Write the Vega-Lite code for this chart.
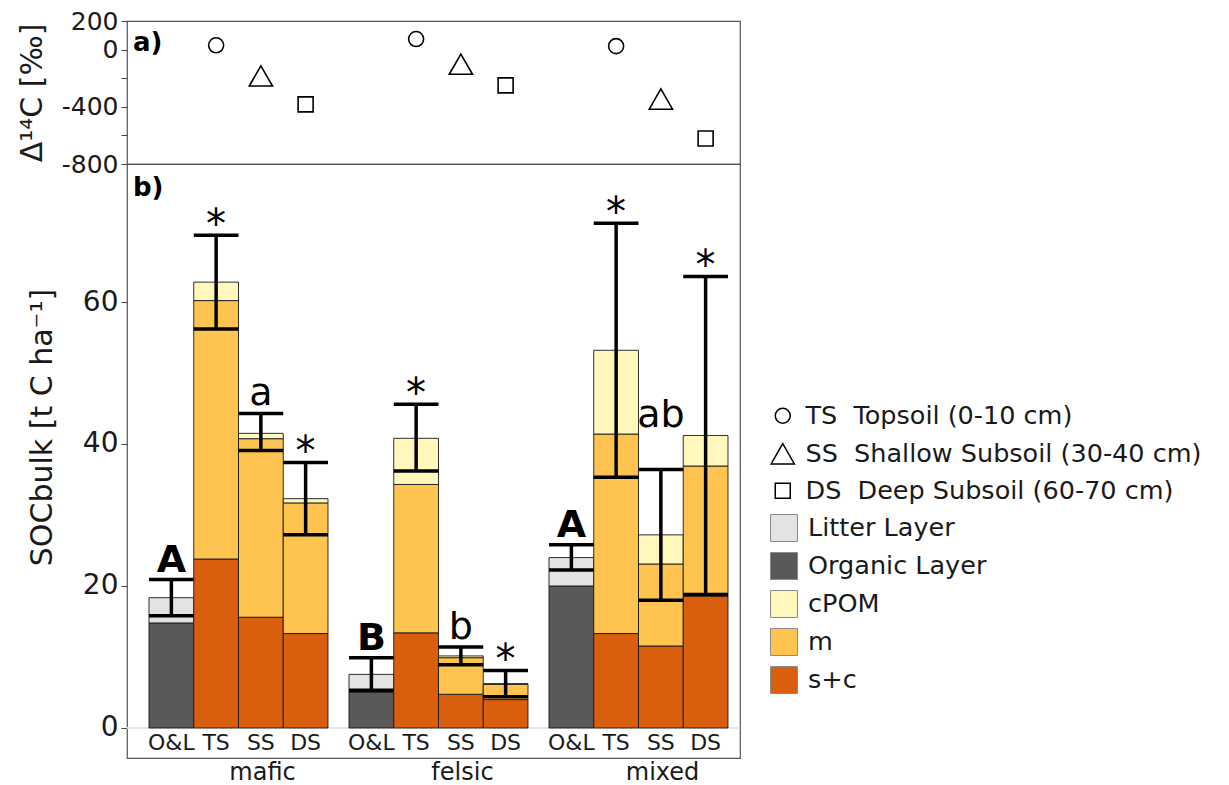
{
  "$schema": "https://vega.github.io/schema/vega-lite/v6.json",
  "padding": {"left": 16, "top": 8, "right": 2, "bottom": 2},
  "spacing": 0,
  "bounds": "flush",
  "config": {
    "font": "DejaVu Sans",
    "view": {"stroke": "#555555", "strokeWidth": 1.2},
    "axis": {"grid": false, "domain": false, "labelColor": "#1a1a1a", "titleColor": "#1a1a1a", "tickColor": "#444444", "tickSize": 6, "labelFontSize": 25, "titleFontSize": 30, "titleFontWeight": "normal", "labelPadding": 3},
    "legend": {"labelFontSize": 25.5, "labelColor": "#1a1a1a", "labelFont": "DejaVu Sans", "labelLimit": 0}
  },
  "datasets": {
    "d14c": [
      {"group": "mafic", "depth": "TS", "d14c": 30},
      {"group": "mafic", "depth": "SS", "d14c": -184},
      {"group": "mafic", "depth": "DS", "d14c": -383},
      {"group": "felsic", "depth": "TS", "d14c": 74},
      {"group": "felsic", "depth": "SS", "d14c": -102},
      {"group": "felsic", "depth": "DS", "d14c": -250},
      {"group": "mixed", "depth": "TS", "d14c": 24},
      {"group": "mixed", "depth": "SS", "d14c": -346},
      {"group": "mixed", "depth": "DS", "d14c": -622}
    ],
    "comps": [
      {"group": "mafic", "depth": "O&L", "component": "Organic Layer", "value": 14.8},
      {"group": "mafic", "depth": "O&L", "component": "Litter Layer", "value": 3.55},
      {"group": "mafic", "depth": "TS", "component": "s+c", "value": 23.8},
      {"group": "mafic", "depth": "TS", "component": "m", "value": 36.4},
      {"group": "mafic", "depth": "TS", "component": "cPOM", "value": 2.6},
      {"group": "mafic", "depth": "SS", "component": "s+c", "value": 15.6},
      {"group": "mafic", "depth": "SS", "component": "m", "value": 25.15},
      {"group": "mafic", "depth": "SS", "component": "cPOM", "value": 0.75},
      {"group": "mafic", "depth": "DS", "component": "s+c", "value": 13.3},
      {"group": "mafic", "depth": "DS", "component": "m", "value": 18.4},
      {"group": "mafic", "depth": "DS", "component": "cPOM", "value": 0.6},
      {"group": "felsic", "depth": "O&L", "component": "Organic Layer", "value": 5.0},
      {"group": "felsic", "depth": "O&L", "component": "Litter Layer", "value": 2.55},
      {"group": "felsic", "depth": "TS", "component": "s+c", "value": 13.4},
      {"group": "felsic", "depth": "TS", "component": "m", "value": 20.9},
      {"group": "felsic", "depth": "TS", "component": "cPOM", "value": 6.5},
      {"group": "felsic", "depth": "SS", "component": "s+c", "value": 4.75},
      {"group": "felsic", "depth": "SS", "component": "m", "value": 5.15},
      {"group": "felsic", "depth": "SS", "component": "cPOM", "value": 0.25},
      {"group": "felsic", "depth": "DS", "component": "s+c", "value": 4.0},
      {"group": "felsic", "depth": "DS", "component": "m", "value": 2.15},
      {"group": "felsic", "depth": "DS", "component": "cPOM", "value": 0.1},
      {"group": "mixed", "depth": "O&L", "component": "Organic Layer", "value": 20.0},
      {"group": "mixed", "depth": "O&L", "component": "Litter Layer", "value": 4.0},
      {"group": "mixed", "depth": "TS", "component": "s+c", "value": 13.3},
      {"group": "mixed", "depth": "TS", "component": "m", "value": 28.1},
      {"group": "mixed", "depth": "TS", "component": "cPOM", "value": 11.8},
      {"group": "mixed", "depth": "SS", "component": "s+c", "value": 11.55},
      {"group": "mixed", "depth": "SS", "component": "m", "value": 11.55},
      {"group": "mixed", "depth": "SS", "component": "cPOM", "value": 4.1},
      {"group": "mixed", "depth": "DS", "component": "s+c", "value": 18.6},
      {"group": "mixed", "depth": "DS", "component": "m", "value": 18.3},
      {"group": "mixed", "depth": "DS", "component": "cPOM", "value": 4.3}
    ],
    "bars": [
      {"group": "mafic", "depth": "O&L", "lo": 15.8, "hi": 20.9, "sig": "A"},
      {"group": "mafic", "depth": "TS", "lo": 56.2, "hi": 69.4, "sig": "*"},
      {"group": "mafic", "depth": "SS", "lo": 39.1, "hi": 44.3, "sig": "a"},
      {"group": "mafic", "depth": "DS", "lo": 27.2, "hi": 37.4, "sig": "*"},
      {"group": "felsic", "depth": "O&L", "lo": 5.3, "hi": 9.9, "sig": "B"},
      {"group": "felsic", "depth": "TS", "lo": 36.2, "hi": 45.6, "sig": "*"},
      {"group": "felsic", "depth": "SS", "lo": 8.9, "hi": 11.4, "sig": "b"},
      {"group": "felsic", "depth": "DS", "lo": 4.4, "hi": 8.1, "sig": "*"},
      {"group": "mixed", "depth": "O&L", "lo": 22.25, "hi": 25.8, "sig": "A"},
      {"group": "mixed", "depth": "TS", "lo": 35.3, "hi": 71.1, "sig": "*"},
      {"group": "mixed", "depth": "SS", "lo": 18.0, "hi": 36.4, "sig": "ab"},
      {"group": "mixed", "depth": "DS", "lo": 18.8, "hi": 63.6, "sig": "*"}
    ]
  },
  "vconcat": [
    {
      "width": 613,
      "height": 143,
      "title": {"text": "a)", "anchor": "start", "frame": "group", "orient": "top", "offset": -47, "dx": 6, "fontSize": 26, "fontWeight": "bold", "color": "#000000"},
      "data": {"name": "d14c"},
      "mark": {"type": "point", "filled": false, "color": "black", "strokeWidth": 1.6, "opacity": 1, "size": 225},
      "encoding": {
        "x": {"field": "group", "type": "nominal", "sort": null, "scale": {"domain": ["mafic", "felsic", "mixed"], "paddingInner": 0.105, "paddingOuter": 0.085, "align": 0.647}, "axis": null},
        "xOffset": {"field": "depth", "type": "nominal", "scale": {"domain": ["O&L", "TS", "SS", "DS"], "paddingInner": 0, "paddingOuter": 0}},
        "y": {"field": "d14c", "type": "quantitative", "scale": {"domain": [-800, 200], "nice": false, "zero": false},
          "axis": {"title": "Δ¹⁴C [‰]", "values": [-800, -600, -400, -200, 0, 200], "labelExpr": "datum.value == -200 || datum.value == -600 ? '' : '' + datum.value", "titleX": -95, "titleY": 71.5, "titleBaseline": "middle", "titleAlign": "center", "titleAngle": 270}},
        "shape": {"field": "depth", "type": "nominal", "scale": {"domain": ["TS", "SS", "DS"], "range": ["circle", "M0,-1.35L1.55,1.35L-1.55,1.35Z", "square"]},
          "legend": {"title": null, "orient": "none", "legendX": 643, "legendY": 382, "labelExpr": "datum.label == 'TS' ? 'TS\u00a0\u00a0Topsoil (0-10 cm)' : datum.label == 'SS' ? 'SS\u00a0\u00a0Shallow Subsoil (30-40 cm)' : 'DS\u00a0\u00a0Deep Subsoil (60-70 cm)'", "symbolStrokeColor": "black", "symbolFillColor": "transparent", "symbolStrokeWidth": 1.5, "symbolSize": 225, "labelOffset": 10, "rowPadding": 10}}
      }
    },
    {
      "width": 613,
      "height": 594,
      "title": {"text": "b)", "anchor": "start", "frame": "group", "orient": "top", "offset": -37, "dx": 6, "fontSize": 26, "fontWeight": "bold", "color": "#000000"},
      "layer": [
        {
          "data": {"name": "bars"},
          "mark": {"type": "rule", "color": "#e6e6e6", "strokeWidth": 1.5},
          "encoding": {
            "y": {"datum": 0, "type": "quantitative", "scale": {"domain": [-4.23, 79.44], "nice": false, "zero": false},
              "axis": {"title": "SOCbulk [t C ha⁻¹]", "values": [0, 20, 40, 60], "labelFontSize": 28, "titleX": -85, "titleY": 263, "titleBaseline": "middle", "titleAlign": "center", "titleAngle": 270}}
          }
        },
        {
          "data": {"name": "comps"},
          "mark": {"type": "bar", "stroke": "#1a1a1a", "strokeWidth": 0.9},
          "encoding": {
            "x": {"field": "group", "type": "nominal", "sort": null, "scale": {"domain": ["mafic", "felsic", "mixed"], "paddingInner": 0.105, "paddingOuter": 0.085, "align": 0.647},
              "axis": {"title": null, "labelAngle": 0, "ticks": false, "labelFontSize": 24, "labelPadding": 2, "labelOffset": 24, "labelBaseline": "top"}},
            "xOffset": {"field": "depth", "type": "nominal", "scale": {"domain": ["O&L", "TS", "SS", "DS"], "paddingInner": 0, "paddingOuter": 0}},
            "y": {"field": "value", "type": "quantitative", "stack": "zero", "scale": {"domain": [-4.23, 79.44], "nice": false, "zero": false},
              "axis": {"title": "SOCbulk [t C ha⁻¹]", "values": [0, 20, 40, 60], "labelFontSize": 28, "titleX": -85, "titleY": 263, "titleBaseline": "middle", "titleAlign": "center", "titleAngle": 270}},
            "color": {"field": "component", "type": "nominal",
              "scale": {"domain": ["Litter Layer", "Organic Layer", "cPOM", "m", "s+c"], "range": ["#e3e3e3", "#595959", "#fff7bc", "#fec44f", "#d95f0e"]},
              "legend": {"title": null, "orient": "none", "legendX": 643, "legendY": 493, "symbolType": "square", "symbolSize": 729, "symbolStrokeColor": "#8a8a8a", "symbolStrokeWidth": 1, "symbolOpacity": 1, "labelOffset": 10, "rowPadding": 6}},
            "order": {"field": "component", "sort": "descending"}
          }
        },
        {
          "data": {"name": "bars"},
          "mark": {"type": "rule", "color": "black", "strokeWidth": 3.5},
          "encoding": {
            "x": {"field": "group", "type": "nominal", "sort": null},
            "xOffset": {"field": "depth", "type": "nominal"},
            "y": {"field": "lo", "type": "quantitative"},
            "y2": {"field": "hi"}
          }
        },
        {
          "data": {"name": "bars"},
          "mark": {"type": "bar", "fillOpacity": 0, "stroke": "black", "strokeWidth": 3.5},
          "encoding": {
            "x": {"field": "group", "type": "nominal", "sort": null},
            "xOffset": {"field": "depth", "type": "nominal"},
            "y": {"field": "hi", "type": "quantitative"},
            "y2": {"field": "hi"}
          }
        },
        {
          "data": {"name": "bars"},
          "mark": {"type": "bar", "fillOpacity": 0, "stroke": "black", "strokeWidth": 3.5},
          "encoding": {
            "x": {"field": "group", "type": "nominal", "sort": null},
            "xOffset": {"field": "depth", "type": "nominal"},
            "y": {"field": "lo", "type": "quantitative"},
            "y2": {"field": "lo"}
          }
        },
        {
          "data": {"name": "bars"},
          "mark": {"type": "text", "fontSize": 22, "baseline": "middle", "color": "#1a1a1a"},
          "encoding": {
            "x": {"field": "group", "type": "nominal", "sort": null},
            "xOffset": {"field": "depth", "type": "nominal"},
            "y": {"datum": -2.05, "type": "quantitative"},
            "text": {"field": "depth"}
          }
        },
        {
          "data": {"name": "bars"},
          "transform": [{"filter": "datum.sig == 'A' || datum.sig == 'B'"}],
          "mark": {"type": "text", "fontSize": 38, "fontWeight": "bold", "baseline": "alphabetic", "dy": -8, "color": "black"},
          "encoding": {
            "x": {"field": "group", "type": "nominal", "sort": null},
            "xOffset": {"field": "depth", "type": "nominal"},
            "y": {"field": "hi", "type": "quantitative"},
            "text": {"field": "sig"}
          }
        },
        {
          "data": {"name": "bars"},
          "transform": [{"filter": "datum.sig == 'a' || datum.sig == 'b'"}],
          "mark": {"type": "text", "fontSize": 38, "baseline": "alphabetic", "dy": -8, "color": "black"},
          "encoding": {
            "x": {"field": "group", "type": "nominal", "sort": null},
            "xOffset": {"field": "depth", "type": "nominal"},
            "y": {"field": "hi", "type": "quantitative"},
            "text": {"field": "sig"}
          }
        },
        {
          "data": {"name": "bars"},
          "transform": [{"filter": "datum.sig == 'ab'"}],
          "mark": {"type": "text", "fontSize": 38, "baseline": "alphabetic", "dy": -43, "color": "black"},
          "encoding": {
            "x": {"field": "group", "type": "nominal", "sort": null},
            "xOffset": {"field": "depth", "type": "nominal"},
            "y": {"field": "hi", "type": "quantitative"},
            "text": {"field": "sig"}
          }
        },
        {
          "data": {"name": "bars"},
          "transform": [{"filter": "datum.sig == '*'"}],
          "mark": {"type": "text", "fontSize": 40, "baseline": "alphabetic", "dy": 3, "color": "black"},
          "encoding": {
            "x": {"field": "group", "type": "nominal", "sort": null},
            "xOffset": {"field": "depth", "type": "nominal"},
            "y": {"field": "hi", "type": "quantitative"},
            "text": {"field": "sig"}
          }
        }
      ]
    }
  ]
}
